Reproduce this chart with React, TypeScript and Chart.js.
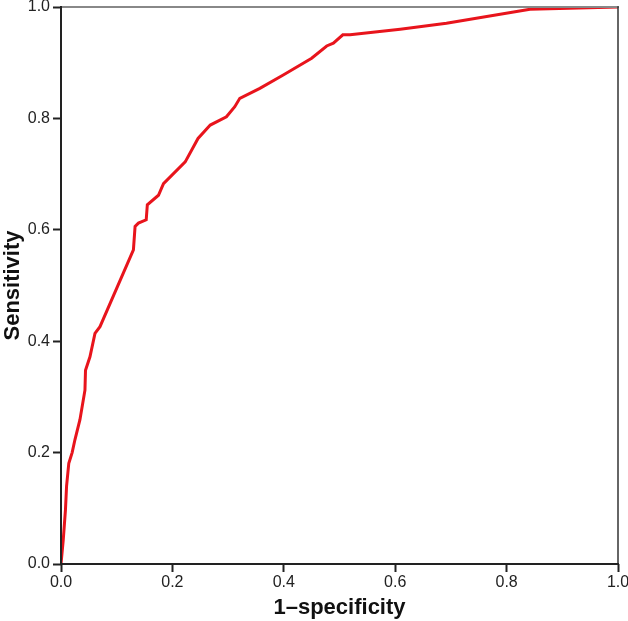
import React, { useEffect, useRef } from "react";
import { Chart, registerables } from "chart.js";

Chart.register(...registerables);

const fpr = [0, 0.004, 0.008, 0.01, 0.014, 0.02, 0.025, 0.034, 0.043, 0.044, 0.052, 0.061, 0.07, 0.13, 0.133, 0.139, 0.153, 0.155, 0.175, 0.184, 0.223, 0.246, 0.268, 0.297, 0.312, 0.321, 0.357, 0.399, 0.45, 0.477, 0.489, 0.506, 0.519, 0.609, 0.692, 0.842, 1.0];
const tpr = [0, 0.043, 0.097, 0.14, 0.181, 0.2, 0.223, 0.259, 0.312, 0.348, 0.372, 0.414, 0.426, 0.564, 0.606, 0.612, 0.618, 0.645, 0.662, 0.683, 0.722, 0.764, 0.788, 0.803, 0.821, 0.836, 0.854, 0.878, 0.908, 0.93, 0.935, 0.95, 0.95, 0.96, 0.971, 0.996, 1.0];
const tickValues = [0, 0.2, 0.4, 0.6, 0.8, 1.0];
const xTitle = "1–specificity";
const yTitle = "Sensitivity";

const FONT = "'Liberation Sans', Arial, Helvetica, sans-serif";

const boxPlugin = {
  id: "boxPlugin",
  afterDraw(chart: any) {
    const { ctx, chartArea: a } = chart;
    ctx.save();
    ctx.lineCap = "square";
    ctx.strokeStyle = "#888";
    ctx.lineWidth = 2;
    ctx.beginPath();
    ctx.moveTo(a.left, a.top);
    ctx.lineTo(a.right, a.top);
    ctx.stroke();
    ctx.strokeStyle = "#333";
    ctx.lineWidth = 1.5;
    ctx.beginPath();
    ctx.moveTo(a.right, a.top);
    ctx.lineTo(a.right, a.bottom);
    ctx.stroke();
    ctx.strokeStyle = "#222";
    ctx.lineWidth = 2;
    ctx.beginPath();
    ctx.moveTo(a.left, a.top);
    ctx.lineTo(a.left, a.bottom);
    ctx.lineTo(a.right, a.bottom);
    ctx.stroke();
    ctx.restore();
  },
};

export default function App() {
  const ref = useRef<HTMLCanvasElement>(null);
  useEffect(() => {
    if (!ref.current) return;
    const points = fpr.map((x, i) => ({ x, y: tpr[i] }));
    const chart = new Chart(ref.current, {
      type: "scatter",
      data: {
        datasets: [
          {
            data: points,
            showLine: true,
            borderColor: "#e8141c",
            borderWidth: 3,
            pointRadius: 0,
            tension: 0,
          },
        ],
      },
      options: {
        animation: false,
        responsive: false,
        maintainAspectRatio: false,
        layout: { padding: { top: 7, right: 10, left: 0, bottom: 0 } },
        plugins: { legend: { display: false }, tooltip: { enabled: false } },
        scales: {
          x: {
            type: "linear",
            min: 0,
            max: 1,
            afterBuildTicks: (s: any) => {
              s.ticks = tickValues.map((v) => ({ value: v }));
            },
            afterFit: (s: any) => {
              s.height = 57;
              s.paddingLeft = 0;
              s.paddingRight = 0;
            },
            grid: {
              drawOnChartArea: false,
              drawTicks: true,
              tickLength: 8,
              tickWidth: 2,
              tickColor: "#222",
            },
            border: { display: false },
            ticks: {
              color: "#222",
              padding: 1,
              font: { family: FONT, size: 16 },
              callback: (v: any) => Number(v).toFixed(1),
            },
            title: {
              display: true,
              text: xTitle,
              color: "#111",
              font: { family: FONT, size: 22, weight: "bold" },
              padding: { top: 2, bottom: 0 },
            },
          },
          y: {
            type: "linear",
            min: 0,
            max: 1,
            afterBuildTicks: (s: any) => {
              s.ticks = tickValues.map((v) => ({ value: v }));
            },
            afterFit: (s: any) => {
              s.width = 61;
              s.paddingTop = 0;
              s.paddingBottom = 0;
            },
            grid: {
              drawOnChartArea: false,
              drawTicks: true,
              tickLength: 8,
              tickWidth: 2,
              tickColor: "#222",
            },
            border: { display: false },
            ticks: {
              color: "#222",
              padding: 3,
              font: { family: FONT, size: 16 },
              callback: (v: any) => Number(v).toFixed(1),
            },
            title: {
              display: true,
              text: yTitle,
              color: "#111",
              font: { family: FONT, size: 22, weight: "bold" },
              padding: { top: 0, bottom: 0 },
            },
          },
        },
      },
      plugins: [boxPlugin],
    });
    return () => chart.destroy();
  }, []);
  return (
    <div style={{ position: "fixed", left: 0, top: 0, width: 628, height: 621, background: "#fff" }}>
      <canvas ref={ref} width={628} height={621} style={{ display: "block" }} />
    </div>
  );
}
